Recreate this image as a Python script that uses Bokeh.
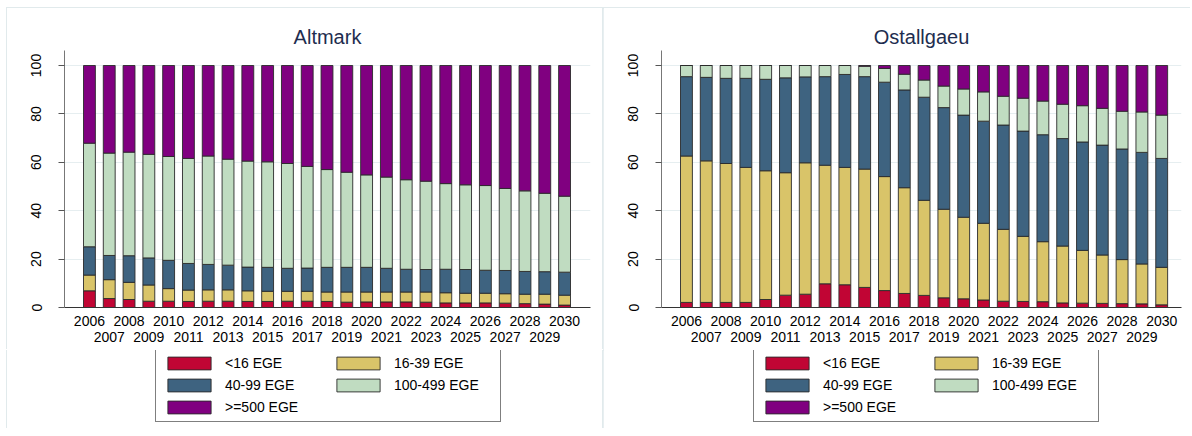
from bokeh.plotting import figure
from bokeh.models import (Range1d, FixedTicker, LinearAxis, Legend, LegendItem,
                          ColumnDataSource, Spacer)
from bokeh.layouts import row, column
from bokeh.embed import file_html
from bokeh.resources import INLINE

years = list(range(2006, 2031))
classes = ["<16 EGE", "16-39 EGE", "40-99 EGE", "100-499 EGE", ">=500 EGE"]
keys = ["c1", "c2", "c3", "c4", "c5"]
colors = ["#C10534", "#D9C469", "#3E6380", "#C0DCC1", "#800080"]

# Altmark: share (%) of each size class per year
alt_lt16 = [6.9, 3.7, 3.3, 2.6, 2.6, 2.5, 2.6, 2.6, 2.5, 2.5, 2.6, 2.6, 2.5,
            2.2, 2.3, 2.3, 2.3, 2.2, 1.9, 1.9, 1.9, 1.8, 1.6, 1.4, 1.0]
alt_16_39 = [6.5, 7.8, 7.1, 6.7, 5.2, 4.7, 4.7, 4.7, 4.4, 4.2, 4.1, 4.1, 3.9,
             4.2, 4.1, 4.1, 4.1, 4.2, 4.2, 4.0, 4.0, 3.9, 3.9, 4.1, 4.1]
alt_40_99 = [11.7, 10.0, 11.0, 11.2, 11.7, 11.0, 10.5, 10.2, 9.8, 9.9, 9.5, 9.6,
             10.2, 10.2, 10.2, 9.8, 9.4, 9.3, 9.7, 9.8, 9.5, 9.6, 9.4, 9.3, 9.5]
alt_100_499 = [42.8, 42.3, 42.8, 42.8, 42.9, 43.4, 44.8, 43.8, 43.8, 43.6, 43.3,
               42.0, 40.4, 39.3, 38.2, 37.7, 37.0, 36.5, 35.4, 35.0, 35.0, 33.9,
               33.3, 32.4, 31.4]
alt_500 = [32.1, 36.2, 35.8, 36.7, 37.6, 38.4, 37.4, 38.7, 39.5, 39.8, 40.5, 41.7,
           43.0, 44.1, 45.2, 46.1, 47.2, 47.8, 48.8, 49.3, 49.6, 50.8, 51.8, 52.8,
           54.0]

# Ostallgaeu
ost_lt16 = [2.1, 2.1, 2.1, 2.1, 3.3, 5.1, 5.5, 9.8, 9.4, 8.3, 7.0, 5.8, 5.0,
            4.0, 3.6, 3.1, 2.6, 2.5, 2.4, 1.9, 1.8, 1.7, 1.6, 1.5, 1.1]
ost_16_39 = [60.5, 58.5, 57.4, 55.8, 53.2, 50.6, 54.3, 49.0, 48.5, 48.9, 47.1,
             43.7, 39.3, 36.6, 33.7, 31.7, 29.7, 26.9, 24.8, 23.5, 21.8, 20.0,
             18.2, 16.5, 15.5]
ost_40_99 = [32.8, 34.5, 35.2, 36.8, 37.8, 39.2, 35.5, 36.6, 38.4, 38.2, 39.0,
             40.4, 42.6, 42.0, 42.2, 42.2, 43.1, 43.5, 44.2, 44.4, 44.8, 45.4,
             45.7, 46.1, 45.0]
ost_100_499 = [4.6, 4.9, 5.3, 5.3, 5.7, 5.1, 4.7, 4.6, 3.7, 4.3, 5.7, 6.5, 7.1,
               8.9, 10.8, 12.1, 11.9, 13.6, 13.9, 14.2, 15.0, 15.2, 15.6, 16.7,
               17.9]
ost_500 = [0.0, 0.0, 0.0, 0.0, 0.0, 0.0, 0.0, 0.0, 0.0, 0.3, 1.2, 3.6, 6.0, 8.5,
           9.7, 10.9, 12.7, 13.5, 14.7, 16.0, 16.6, 17.7, 18.9, 19.2, 20.5]

y_ticks = [0, 20, 40, 60, 80, 100]
even_years = years[::2]
odd_years = years[1::2]

FONT = "Liberation Sans"
EDGE = "#E1EAEC"


def panel(title, series, width, min_left, min_right, x_end, shadow):
    src = ColumnDataSource(dict(year=years, **dict(zip(keys, series))))
    p = figure(width=width, height=342, output_backend="svg",
               toolbar_location=None, title=title,
               x_range=Range1d(2004.74, x_end), y_range=Range1d(0, 106.2),
               min_border_left=min_left, min_border_right=min_right,
               min_border_top=42, min_border_bottom=43)
    p.styles = {"box-shadow": shadow}
    p.outline_line_color = None
    p.background_fill_color = "white"
    p.border_fill_color = "white"

    p.title.align = "center"
    p.title.text_font = FONT
    p.title.text_font_size = "20px"
    p.title.text_font_style = "normal"
    p.title.text_color = "#1E2D4F"
    p.title.standoff = 5

    p.vbar_stack(keys, x="year", width=0.6, color=colors, source=src,
                 line_color="#2a2a2a", line_width=0.9)

    # y axis
    ya = p.yaxis[0]
    ya.ticker = FixedTicker(ticks=y_ticks)
    ya.major_label_orientation = "vertical"
    ya.major_label_text_font = FONT
    ya.major_label_text_font_size = "14px"
    ya.major_label_text_color = "black"
    ya.major_tick_out = 6
    ya.major_tick_in = 0
    ya.minor_tick_line_color = None
    ya.axis_line_color = "#777777"
    ya.major_tick_line_color = "#555555"
    ya.major_label_standoff = 17

    # x axes: even years row, then odd years row
    xa = p.xaxis[0]
    xa.ticker = FixedTicker(ticks=even_years)
    xa.major_tick_out = 0
    xa.major_tick_in = 0
    xa.minor_tick_line_color = None
    xa.major_tick_line_color = None
    xa.axis_line_color = "#333333"
    xa.major_label_text_font = FONT
    xa.major_label_text_font_size = "14px"
    xa.major_label_text_color = "black"
    xa.major_label_standoff = 8

    xa2 = LinearAxis(ticker=FixedTicker(ticks=odd_years))
    xa2.axis_line_color = None
    xa2.major_tick_line_color = None
    xa2.minor_tick_line_color = None
    xa2.major_tick_out = 0
    xa2.major_tick_in = 0
    xa2.major_label_text_font = FONT
    xa2.major_label_text_font_size = "14px"
    xa2.major_label_text_color = "black"
    xa2.major_label_standoff = 3
    p.add_layout(xa2, "below")

    p.xgrid.visible = False
    p.ygrid.ticker = FixedTicker(ticks=y_ticks)
    p.ygrid.grid_line_color = "#E6EEF0"
    p.ygrid.grid_line_width = 1
    return p


def legend_panel(width, legend_x, shadow):
    lp = figure(width=width, height=78, output_backend="svg",
                toolbar_location=None, x_range=Range1d(0, 1),
                y_range=Range1d(0, 1), x_axis_location=None,
                y_axis_location=None, min_border=0, min_border_left=0,
                min_border_right=0, min_border_top=0, min_border_bottom=0)
    lp.styles = {"box-shadow": shadow}
    lp.grid.visible = False
    lp.outline_line_color = None
    lp.border_fill_color = "white"
    # off-screen stand-in renderers that only supply the legend swatches
    rs = [lp.vbar(x=[-5], top=[0], width=0.5, fill_color=c,
                  line_color="#2a2a2a", line_width=0.9) for c in colors]
    items = [LegendItem(label=c, renderers=[r]) for c, r in zip(classes, rs)]
    leg = Legend(items=items, orientation="horizontal", ncols=2,
                 location=(legend_x, 6))
    leg.label_text_font = FONT
    leg.label_text_font_size = "14px"
    leg.label_text_color = "black"
    leg.glyph_width = 54
    leg.glyph_height = 16
    leg.label_height = 16
    leg.label_width = 100
    leg.label_standoff = 9
    leg.spacing = 6
    leg.padding = 6
    leg.margin = 0
    leg.border_line_color = "black"
    leg.border_line_width = 1
    leg.background_fill_color = "white"
    leg.background_fill_alpha = 1
    lp.add_layout(leg, "center")
    return lp


SH_LEFT_TOP = f"-1px -1px 0 0 {EDGE}, 1px 0 0 0 {EDGE}"
SH_LEFT = f"-1px 0 0 0 {EDGE}, 1px 0 0 0 {EDGE}"
SH_RIGHT_TOP = f"-1px -1px 0 0 {EDGE}"
SH_RIGHT = f"-1px 0 0 0 {EDGE}"

p1 = panel("Altmark", [alt_lt16, alt_16_39, alt_40_99, alt_100_499, alt_500],
           596, 57, 13, 2031.31, SH_LEFT_TOP)
l1 = legend_panel(596, 91, SH_LEFT)
p2 = panel("Ostallgaeu", [ost_lt16, ost_16_39, ost_40_99, ost_100_499, ost_500],
           588, 58, 10, 2031.0, SH_RIGHT_TOP)
l2 = legend_panel(588, 92, SH_RIGHT)

layout = column(
    Spacer(height=8),
    row(Spacer(width=7), column(p1, l1, spacing=0),
        column(p2, l2, spacing=0), spacing=0),
    spacing=0)
open("out.html", "w").write(file_html(layout, INLINE))
